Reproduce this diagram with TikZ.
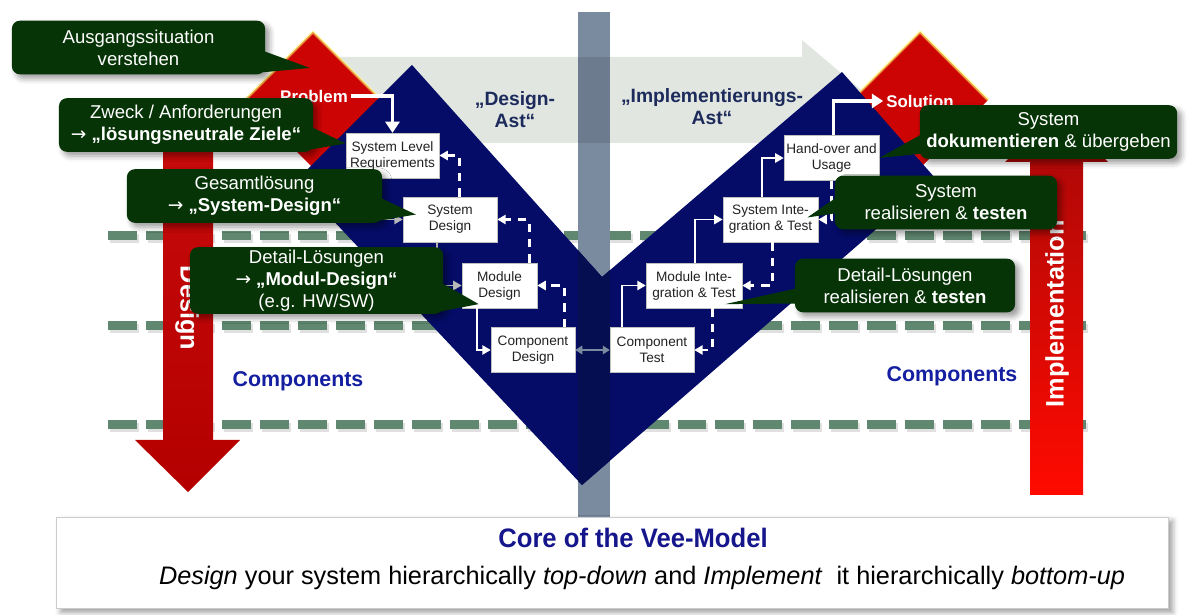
\documentclass[tikz,border=0pt]{standalone}
\usepackage{graphicx}
\usepackage{fontspec}
\setmainfont{Liberation Sans}
\newfontfamily\arrowfont{DejaVu Sans}
\newcommand{\goesto}{{\arrowfont →}}
\usetikzlibrary{arrows.meta,calc,shadows.blur}

\definecolor{veeblue}{RGB}{4,12,104}
\definecolor{veedark}{RGB}{4,14,80}
\definecolor{veebar}{RGB}{122,139,160}
\definecolor{barband}{RGB}{108,124,142}
\definecolor{bandgray}{RGB}{225,230,225}
\definecolor{notegreen}{RGB}{6,52,6}
\definecolor{dashgreen}{RGB}{96,136,112}
\definecolor{astblue}{RGB}{28,42,92}
\definecolor{compblue}{RGB}{20,30,160}
\definecolor{titleblue}{RGB}{22,22,140}
\definecolor{boxtext}{RGB}{34,34,34}
\definecolor{diamondred}{RGB}{204,4,4}

\tikzset{
  stagebox/.style={fill=white, draw=black!25, line width=.3pt, text=boxtext, align=center,
    inner sep=1pt, font=\fontsize{9.7}{11.4}\selectfont, minimum height=1.12cm, minimum width=#1},
  stagebox/.default=2.35cm,
  greennote/.style={fill=notegreen, text=white, rounded corners=.2cm, align=center,
    font=\fontsize{13.2}{15.5}\selectfont, inner sep=2pt, minimum width=#1, minimum height=1.34cm,
    blur shadow={shadow xshift=3pt, shadow yshift=-3pt, shadow blur radius=4pt}},
  notetail/.style={fill=notegreen},
  flow/.style={draw=white, line width=1.4pt, -{Triangle[length=6pt,width=6.5pt]}},
  bigflow/.style={draw=white, line width=2.4pt, -{Triangle[length=8pt,width=10pt]}},
  feedback/.style={flow, line width=2pt, dash pattern=on 6pt off 5pt},
  twoway/.style={draw=veebar, line width=1.6pt, {Triangle[length=5pt,width=6pt]}-{Triangle[length=5pt,width=6pt]}},
  gridline/.style={draw=dashgreen, line width=6.4pt, dash pattern=on 20.6pt off 6.4pt},
  glow/.style={draw=yellow!60!white, line width=2pt, opacity=.6, line join=round},
  branchlabel/.style={text=astblue, font=\bfseries\fontsize{13.7}{15.5}\selectfont, align=center},
  comps/.style={text=compblue, font=\bfseries\fontsize{15.2}{18}\selectfont},
  dirlabel/.style={text=white, font=\bfseries\fontsize{18}{20}\selectfont},
  endlabel/.style={text=white, font=\bfseries\fontsize{12}{14}\selectfont, inner sep=2pt},
}

\def\vshape{(296,181) -- (412,65) -- (602,277) -- (842,72) -- (935,178) -- (582,485) -- cycle}

\begin{document}
\begin{tikzpicture}[x=0.025cm, y=-0.025cm]
    \useasboundingbox (0,0) rectangle (1197,615);

    % level lines
    \foreach \y in {236,326,425} {
        \draw[gridline, draw=black, opacity=.12] (110,\y+3) -- (1094,\y+3);
        \draw[gridline] (108,\y) -- (1092,\y);
    }

    % grey band arrow and middle bar
    \fill[bandgray] (300,57) -- (802,57) -- (802,40) -- (873,100) -- (802,160) -- (802,143) -- (300,143) -- cycle;
    \fill[veebar] (578,12) rectangle (610,517);
    \fill[barband] (578,57) rectangle (610,143);

    % red diamonds and arrows
    \fill[diamondred] (313,32) -- (381,100) -- (313,168) -- (245,100) -- cycle;
    \draw[glow] (245,100) -- (313,32) -- (381,100);
    \fill[diamondred] (920,32) -- (988,100) -- (920,168) -- (852,100) -- cycle;
    \draw[glow] (852,100) -- (920,32) -- (988,100);

    \shade[top color={rgb,255:red,200;green,10;blue,10}, middle color={rgb,255:red,236;green,16;blue,10},
           bottom color={rgb,255:red,180;green,0;blue,0}]
        (163,120) -- (213,120) -- (213,440) -- (240,440) -- (188,492) -- (135,440) -- (163,440) -- cycle;
    \shade[top color={rgb,255:red,165;green,8;blue,8}, bottom color={rgb,255:red,255;green,10;blue,0}]
        (1030,495) -- (1083,495) -- (1083,162) -- (1108,162) -- (1057,110) -- (1005,162) -- (1030,162) -- cycle;
    \node[dirlabel, rotate=-90] (designlbl) at (187,308) {Design};
    \node[dirlabel, rotate=90] (impllbl) at (1057,314) {Implementation};

    % the V
    \fill[veeblue] \vshape;
    \begin{scope}
        \clip \vshape;
        \fill[veedark] (578,12) rectangle (610,517);
    \end{scope}

    \node[branchlabel] (designast) at (515,110) {„Design-\\Ast“};
    \node[branchlabel] (implast) at (712,107) {„Implementierungs-\\Ast“};
    \node[comps] (compl) at (298,381) {Components};
    \node[comps] (compr) at (952,376) {Components};

    % design branch
    \node[stagebox=2.33cm] (slr) at (392.5,155.5) {System Level\\Requirements};
    \node[stagebox] (sd) at (450,219.5) {System\\Design};
    \node[stagebox=1.88cm] (md) at (499.5,285.5) {Module\\Design};
    \node[stagebox=2.1cm] (cd) at (533,350) {Component\\Design};

    % implementation branch
    \node[stagebox=2.1cm] (ct) at (652,350) {Component\\Test};
    \node[stagebox=2.4cm] (mit) at (694,285.5) {Module Inte-\\gration \& Test};
    \node[stagebox=2.38cm] (sit) at (770.5,219.5) {System Inte-\\gration \& Test};
    \node[stagebox=2.38cm] (hu) at (831.5,158) {Hand-over and\\Usage};

    \node[endlabel] (prob) at (314,96) {Problem};
    \node[endlabel] (sol) at (920,101) {Solution};

    \draw[bigflow] (prob.east) -| (slr.north);
    \draw[flow, draw=white!72!black] ($(slr.south west)+(30,0)$) |- (sd.west);
    \draw[flow, draw=white!72!black] ($(sd.south west)+(34,0)$) |- (md.west);
    \draw[flow] ($(md.south west)+(15,0)$) |- (cd.west);
    \draw[feedback] ($(cd.north east)+(-11,0)$) |- (md.east);
    \draw[feedback] ($(md.north east)+(-8,0)$) |- (sd.east);
    \draw[feedback] ($(sd.north west)+(57,0)$) |- (slr.east);

    \draw[flow] ($(ct.north west)+(12,0)$) |- (mit.west);
    \draw[flow] ($(mit.north west)+(49,0)$) |- (sit.west);
    \draw[flow] ($(sit.north west)+(39,0)$) |- (hu.west);
    \draw[bigflow] ($(hu.north west)+(50,0)$) |- (sol.west);
    \draw[feedback] ($(hu.south west)+(48,0)$) |- (sit.east);
    \draw[feedback] ($(sit.south west)+(50,0)$) |- (mit.east);
    \draw[feedback] ($(mit.south west)+(67,0)$) |- (ct.east);

    \draw[twoway] (cd.east) -- (ct.west);

    % callouts
    \coordinate (aim1) at (310,68);
    \node[greennote=6.33cm] (n1) at (138.5,47.5) {Ausgangssituation\\verstehen};
    \fill[notetail] ($(n1.east)+(-6,2)$) -- (aim1) -- ($(n1.south east)+(-6,-2)$) -- cycle;

    \node[greennote=6.35cm] (n2) at (186,125) {Zweck / Anforderungen\\\goesto\ \textbf{„lösungsneutrale Ziele“}};
    \fill[notetail] ($(n2.east)+(-6,0)$) -- ($(slr.west)+(0,-12)$) -- ($(n2.south east)+(-6,-2)$) -- cycle;

    \node[greennote=6.38cm] (n3) at (254.5,196) {Gesamtlösung\\\goesto\ \textbf{„System-Design“}};
    \fill[notetail] ($(n3.east)+(-6,0)$) -- ($(sd.west)+(13,-5)$) -- ($(n3.south east)+(-6,-2)$) -- cycle;

    \node[greennote=6.33cm, minimum height=1.63cm] (n4) at (316.5,280.5) {Detail-Lösungen\\\goesto\ \textbf{„Modul-Design“}\\(e.g. HW/SW)};
    \fill[notetail] ($(n4.east)+(-6,0)$) -- ($(md.south west)+(17,-4)$) -- ($(n4.south east)+(-6,-2)$) -- cycle;

    \node[greennote=6.43cm] (n5) at (1048.5,132) {System\\\textbf{dokumentieren} \& übergeben};
    \fill[notetail] ($(n5.west)+(6,0)$) -- (hu.east) -- ($(n5.south west)+(8,-6)$) -- cycle;

    \node[greennote=5.55cm] (n6) at (946,202.5) {System\\realisieren \& \textbf{testen}};
    \fill[notetail] ($(n6.west)+(6,-8)$) -- ($(sit.east)+(-11,-2)$) -- ($(n6.west)+(6,10)$) -- cycle;

    \node[greennote=5.5cm] (n7) at (905,285.5) {Detail-Lösungen\\realisieren \& \textbf{testen}};
    \fill[notetail] ($(n7.west)+(6,2)$) -- ($(mit.south east)+(-17,-4)$) -- ($(n7.west)+(6,18)$) -- cycle;

    % summary panel
    \node[fill=white, draw=black!20, minimum width=27.78cm, minimum height=2.28cm,
          blur shadow={shadow xshift=3pt, shadow yshift=-3pt, shadow blur radius=4pt}] (panel) at (612.5,562.5) {};
    \node[text=titleblue, font=\bfseries\fontsize{19}{22}\selectfont] (core) at (633,538)
        {\scalebox{.96}[1]{Core of the Vee-Model}};
    \node[font=\fontsize{18}{21}\selectfont] (motto) at (642,578)
        {\textit{Design} your system hierarchically \textit{top-down} and \textit{Implement}\ \ it hierarchically \textit{bottom-up}};
\end{tikzpicture}
\end{document}
